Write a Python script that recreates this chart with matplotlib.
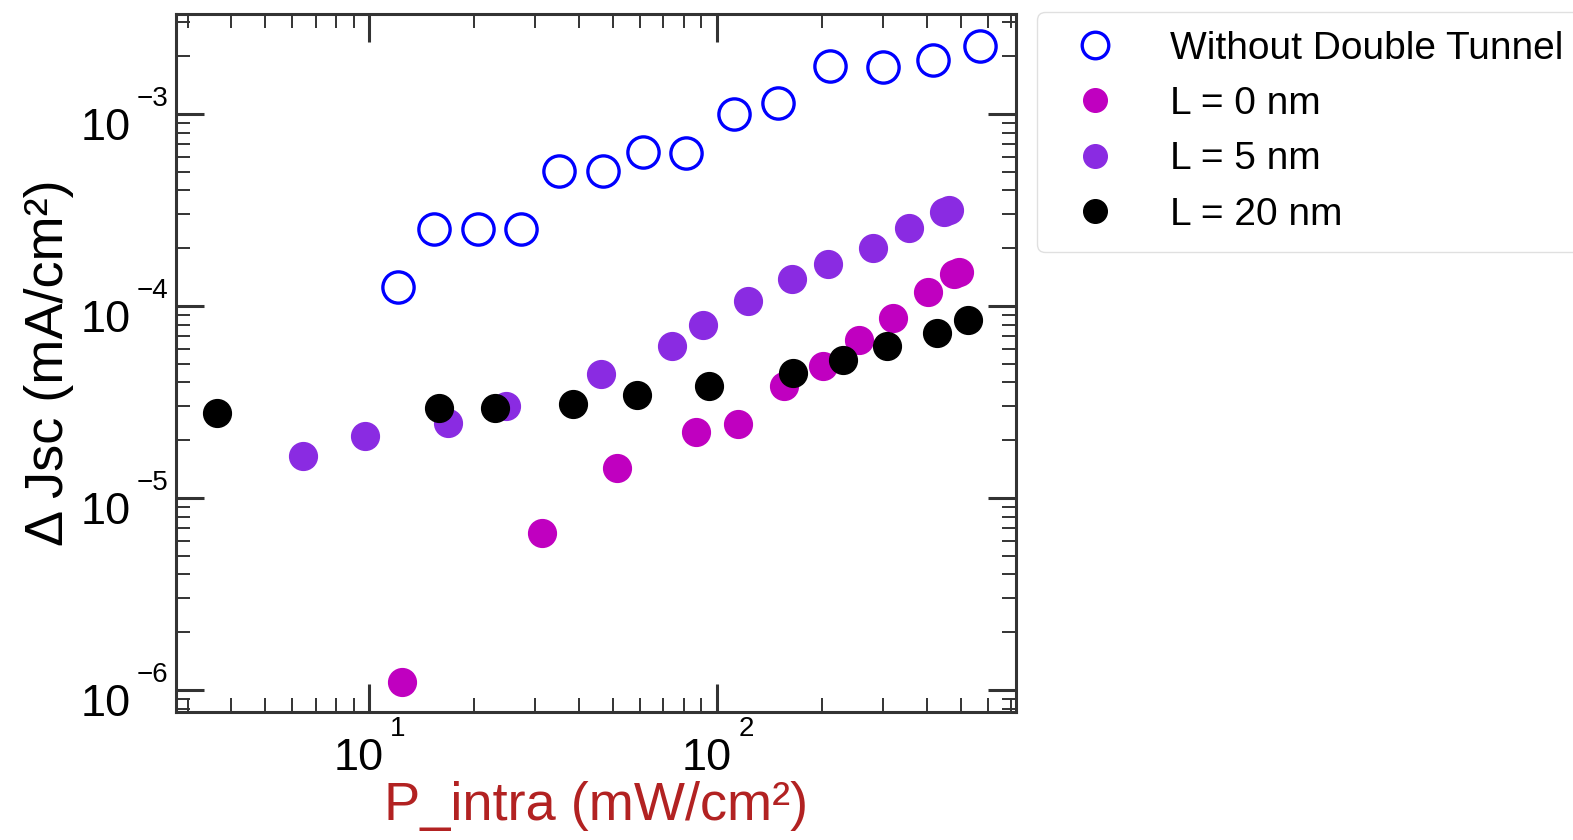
import matplotlib
matplotlib.use("Agg")
import matplotlib.pyplot as plt
from matplotlib.ticker import LogLocator, NullFormatter
import numpy as np

plt.rcParams['font.family'] = ['Liberation Sans', 'DejaVu Sans']

# data
p_nodt = [12.1, 15.3, 20.5, 27.2, 35.0, 46.9, 61.2, 81.3, 111.6, 149.5, 211, 299, 417, 569]
j_nodt = [1.26e-4, 2.53e-4, 2.53e-4, 2.53e-4, 5.08e-4, 5.08e-4, 6.34e-4, 6.26e-4,
          1.0e-3, 1.14e-3, 1.78e-3, 1.76e-3, 1.91e-3, 2.26e-3]

p_l0 = [12.4, 31.3, 51.4, 86.9, 114.9, 155.5, 200.9, 255.9, 319, 402, 479, 496]
j_l0 = [1.10e-6, 6.6e-6, 1.43e-5, 2.21e-5, 2.42e-5, 3.83e-5, 4.89e-5, 6.65e-5,
        8.69e-5, 1.18e-4, 1.46e-4, 1.51e-4]

p_l5 = [6.44, 9.72, 16.8, 24.7, 46.3, 74.3, 91.2, 122.3, 163.6, 208.4, 279.7, 356, 448, 463]
j_l5 = [1.66e-5, 2.11e-5, 2.47e-5, 3.03e-5, 4.42e-5, 6.21e-5, 7.96e-5, 1.06e-4,
        1.38e-4, 1.65e-4, 2.01e-4, 2.56e-4, 3.09e-4, 3.16e-4]

p_l20 = [3.64, 15.8, 23.0, 38.4, 58.9, 94.6, 165.4, 230, 308, 429, 526]
j_l20 = [2.76e-5, 2.95e-5, 2.93e-5, 3.08e-5, 3.44e-5, 3.85e-5, 4.49e-5, 5.23e-5,
         6.21e-5, 7.26e-5, 8.46e-5]

x_decades = [1, 2]
y_decades = [-6, -5, -4, -3]

fig = plt.figure(figsize=(15.73, 8.4), dpi=100)
ax = fig.add_axes([0.1119, 0.1524, 0.5343, 0.8309])

ax.plot(p_nodt, j_nodt, 'o', ls='none', ms=22.5, mfc='none', mec='blue', mew=2.4,
        label='Without Double Tunnel')
ax.plot(p_l0, j_l0, 'o', ls='none', ms=20, color='#c000c0', label='L = 0 nm')
ax.plot(p_l5, j_l5, 'o', ls='none', ms=20, color='#8a2be2', label='L = 5 nm')
ax.plot(p_l20, j_l20, 'o', ls='none', ms=20, color='black', label='L = 20 nm')

ax.set_xscale('log')
ax.set_yscale('log')
ax.set_xlim(2.78, 724)
ax.set_ylim(7.68e-7, 3.32e-3)

for a in (ax.xaxis, ax.yaxis):
    a.set_major_locator(LogLocator(base=10))
    a.set_minor_locator(LogLocator(base=10, subs=np.arange(2, 10)))
    a.set_major_formatter(NullFormatter())
    a.set_minor_formatter(NullFormatter())

ax.tick_params(which='both', direction='in', top=True, right=True, color='0.2')
ax.tick_params(which='major', length=20, width=2.2)
ax.tick_params(which='minor', length=10, width=1.4)
for s in ax.spines.values():
    s.set_linewidth(2.2)
    s.set_color('0.2')

# tick labels as "10" with a small raised exponent
xt = ax.get_xaxis_transform()
yt = ax.get_yaxis_transform()
for e in x_decades:
    ax.annotate('10', xy=(10.0**e, 0), xycoords=xt, xytext=(10.2, -41.8),
                textcoords='offset points', ha='right', va='baseline', fontsize=32.5,
                annotation_clip=False)
    ax.annotate('%d' % e, xy=(10.0**e, 0), xycoords=xt, xytext=(15.0, -17.5),
                textcoords='offset points', ha='left', va='baseline', fontsize=20,
                annotation_clip=False)
for e in y_decades:
    ax.annotate('10', xy=(0, 10.0**e), xycoords=yt, xytext=(-32.9, -19.0),
                textcoords='offset points', ha='right', va='baseline', fontsize=32.5,
                annotation_clip=False)
    ax.annotate('\u2212%d' % abs(e), xy=(0, 10.0**e), xycoords=yt, xytext=(-5.8, 5.5),
                textcoords='offset points', ha='right', va='baseline', fontsize=20,
                annotation_clip=False)

ax.set_xlabel('P_intra (mW/cm²)', fontsize=39, color='firebrick')
ax.set_ylabel('Δ Jsc (mA/cm²)', fontsize=39)
ax.xaxis.set_label_coords(0.5, -0.099)
ax.yaxis.set_label_coords(-0.121, 0.5)

leg = ax.legend(loc='upper left', bbox_to_anchor=(1.0244, 1.003), fontsize=28,
                markerscale=0.85, frameon=True, fancybox=True, borderaxespad=0,
                borderpad=0.48, handletextpad=0.93)
leg.get_frame().set_edgecolor('0.85')

fig.savefig('out.png', dpi=100)
